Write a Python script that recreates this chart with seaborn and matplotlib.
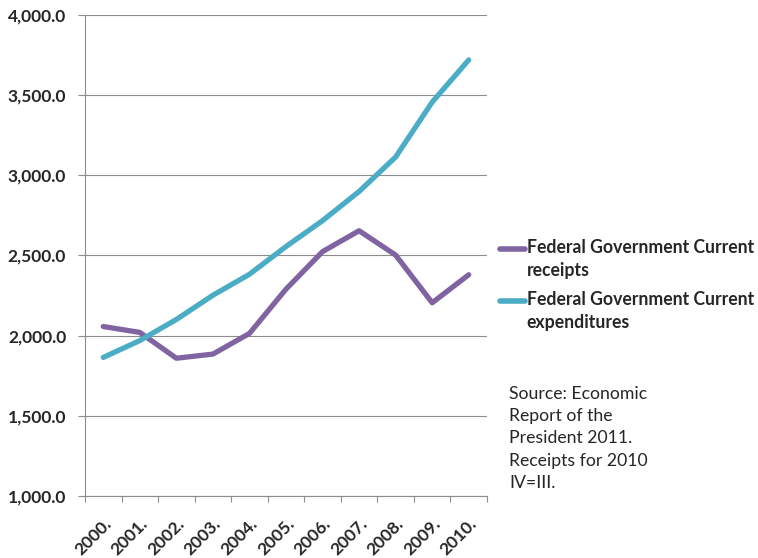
import matplotlib
matplotlib.use("Agg")
import matplotlib.pyplot as plt
import seaborn as sns
import pandas as pd
from matplotlib.ticker import FuncFormatter, FixedLocator

years = ["2000.", "2001.", "2002.", "2003.", "2004.", "2005.", "2006.", "2007.", "2008.", "2009.", "2010."]
receipts = [2057.1, 2020.3, 1859.3, 1885.1, 2013.9, 2290.1, 2524.2, 2654.5, 2502.7, 2205.2, 2380.0]
expenditures = [1864.4, 1969.5, 2101.1, 2252.1, 2383.0, 2555.9, 2717.5, 2899.2, 3114.2, 3456.7, 3720.0]
series_names = ["Federal Government Current\nreceipts", "Federal Government Current\nexpenditures"]
colors = ["#8064A2", "#4BACC6"]
source_text = "Source: Economic\nReport of the\nPresident 2011.\nReceipts for 2010\nIV=III."

df = pd.DataFrame({
    "year": years * 2,
    "value": receipts + expenditures,
    "series": [series_names[0]] * len(years) + [series_names[1]] * len(years),
})

sns.set_theme(style="white")
plt.rcParams["font.family"] = ["Lato", "DejaVu Sans"]

fig = plt.figure(figsize=(7.58, 5.58), dpi=100)
ax = fig.add_axes([85 / 758, 1 - 496 / 558, (487 - 85) / 758, (496 - 15) / 558])

sns.lineplot(data=df, x="year", y="value", hue="series", palette=colors,
             linewidth=3.8, ax=ax, sort=False, legend=True)

ax.set_xlim(-0.5, len(years) - 0.5)
ax.set_ylim(1000, 4000)
ax.set_yticks([1000, 1500, 2000, 2500, 3000, 3500, 4000])
ax.yaxis.set_major_formatter(FuncFormatter(lambda v, p: f"{v:,.1f}"))
ax.grid(axis="y", color="#8c8c8c", linewidth=0.8)
ax.set_axisbelow(True)

ax.set_xticks(range(len(years)))
ax.set_xticklabels(years, rotation=45, ha="right", rotation_mode="anchor",
                   fontsize=12.5, fontweight="bold")
ax.xaxis.set_minor_locator(FixedLocator([i - 0.5 for i in range(len(years) + 1)]))
ax.tick_params(axis="x", which="major", length=0, pad=14)
ax.tick_params(axis="x", which="minor", length=4.5, color="#8c8c8c", width=0.8, direction="out", bottom=True)
ax.tick_params(axis="y", length=5, color="#8c8c8c", width=0.8, direction="out", left=True, pad=8.5,
               labelsize=12.5)
for lbl in ax.get_yticklabels():
    lbl.set_fontweight("bold")

for s in ["top", "right"]:
    ax.spines[s].set_visible(False)
for s in ["left", "bottom"]:
    ax.spines[s].set_color("#8c8c8c")
    ax.spines[s].set_linewidth(0.8)

ax.set_xlabel("")
ax.set_ylabel("")

leg = ax.legend(loc="upper left", bbox_to_anchor=(500 / 758, 1 - 239 / 558),
                bbox_transform=fig.transFigure, frameon=False, handlelength=1.42,
                handletextpad=0.1, labelspacing=0.66, borderaxespad=0, borderpad=0,
                prop={"family": ["Lato", "DejaVu Sans"], "weight": "bold", "size": 12.7})
for t in leg.get_texts():
    t.set_linespacing(1.45)
for line in leg.get_lines():
    line.set_linewidth(4)
    line.set_ydata([v + 8 for v in line.get_ydata()])

fig.text(509 / 758, 1 - 386 / 558, source_text, ha="left", va="top",
         fontsize=12.7, linespacing=1.48)

fig.savefig("out.png", dpi=100)
